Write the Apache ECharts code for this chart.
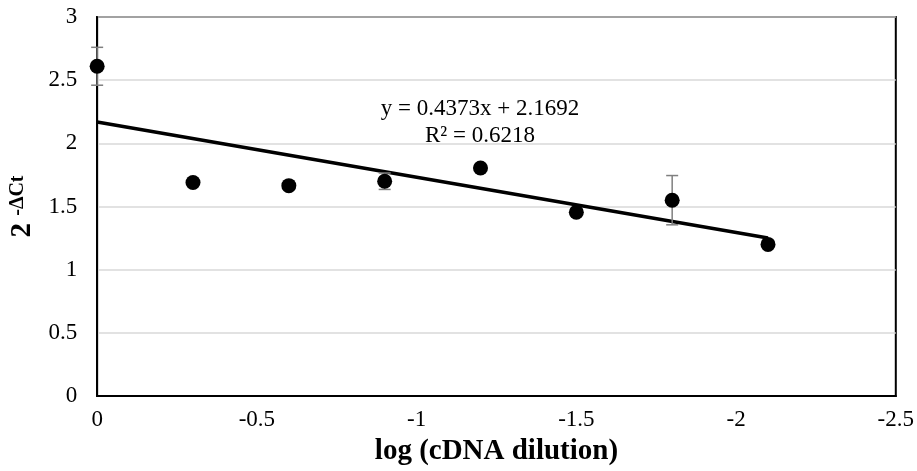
<!DOCTYPE html>
<html><head><meta charset="utf-8">
<script src="https://cdn.jsdelivr.net/npm/echarts@6/dist/echarts.min.js"></script>
<style>html,body{margin:0;padding:0;background:#fff}#c{width:917px;height:471px}</style>
</head><body><div id="c"></div>
<script>
const xValues = [0, -0.3, -0.6, -0.9, -1.2, -1.5, -1.8, -2.1];
const yValues = [2.61, 1.69, 1.665, 1.70, 1.805, 1.455, 1.55, 1.20];
const yErrors = [0.15, 0, 0, 0.065, 0, 0.03, 0.195, 0];
const slope = 0.4373, intercept = 2.1692, r2 = 0.6218;
const trendX = [0, -2.1];

const font = 'Liberation Serif, Times New Roman, serif';
const chart = echarts.init(document.getElementById('c'));
chart.setOption({
  animation: false,
  grid: {left: 94, right: 17, top: 17, bottom: 74, show: true, borderColor: '#000', borderWidth: 2, backgroundColor: 'transparent'},
  xAxis: {
    type: 'value', inverse: true, min: -2.5, max: 0, interval: 0.5,
    axisLine: {show: true, lineStyle: {color: '#000', width: 2}},
    axisTick: {show: false},
    splitLine: {show: false},
    axisLabel: {color: '#000', fontFamily: font, fontSize: 23, margin: 12},
    name: 'log (cDNA dilution)', nameLocation: 'middle', nameGap: 41,
    nameTextStyle: {color: '#000', fontFamily: font, fontSize: 29, fontWeight: 'bold'}
  },
  yAxis: {
    type: 'value', min: 0, max: 3, interval: 0.5,
    axisLine: {show: true, lineStyle: {color: '#000', width: 2}},
    axisTick: {show: false},
    splitLine: {show: true, lineStyle: {color: '#d9d9d9', width: 1.5}},
    axisLabel: {color: '#000', fontFamily: font, fontSize: 23, margin: 20},
    name: '{b|2 }{s|-ΔCt}', nameLocation: 'middle', nameGap: 58, nameRotate: 90,
    nameTextStyle: {
      rich: {
        b: {color: '#000', fontFamily: font, fontSize: 29, fontWeight: 'bold'},
        s: {color: '#000', fontFamily: font, fontSize: 20, fontWeight: 'bold', padding: [0, 0, 10, 0]}
      }
    }
  },
  series: [
    {
      type: 'line', data: trendX.map(x => [x, slope * x + intercept]),
      symbol: 'none', lineStyle: {color: '#000', width: 3.5}, z: 3
    },
    {
      type: 'custom', z: 4,
      data: xValues.map((x, i) => [x, yValues[i] - yErrors[i], yValues[i] + yErrors[i]]),
      renderItem: function (params, api) {
        const lo = api.coord([api.value(0), api.value(1)]);
        const hi = api.coord([api.value(0), api.value(2)]);
        if (Math.abs(lo[1] - hi[1]) < 0.5) return null;
        const w = 6;
        const st = {stroke: '#7f7f7f', lineWidth: 1.5};
        return {type: 'group', children: [
          {type: 'line', shape: {x1: lo[0], y1: lo[1], x2: hi[0], y2: hi[1]}, style: st},
          {type: 'line', shape: {x1: lo[0] - w, y1: lo[1], x2: lo[0] + w, y2: lo[1]}, style: st},
          {type: 'line', shape: {x1: hi[0] - w, y1: hi[1], x2: hi[0] + w, y2: hi[1]}, style: st}
        ]};
      }
    },
    {
      type: 'scatter', data: xValues.map((x, i) => [x, yValues[i]]),
      symbol: 'circle', symbolSize: 15, itemStyle: {color: '#000', opacity: 1}, z: 5
    }
  ],
  graphic: [
    {type: 'text', x: 480, y: 95, z: 10, style: {
      text: 'y = ' + slope + 'x + ' + intercept + '\nR² = ' + r2,
      fill: '#000', font: '23px ' + font, textAlign: 'center', textVerticalAlign: 'top', lineHeight: 27, align: 'center'
    }}
  ]
});
</script></body></html>
